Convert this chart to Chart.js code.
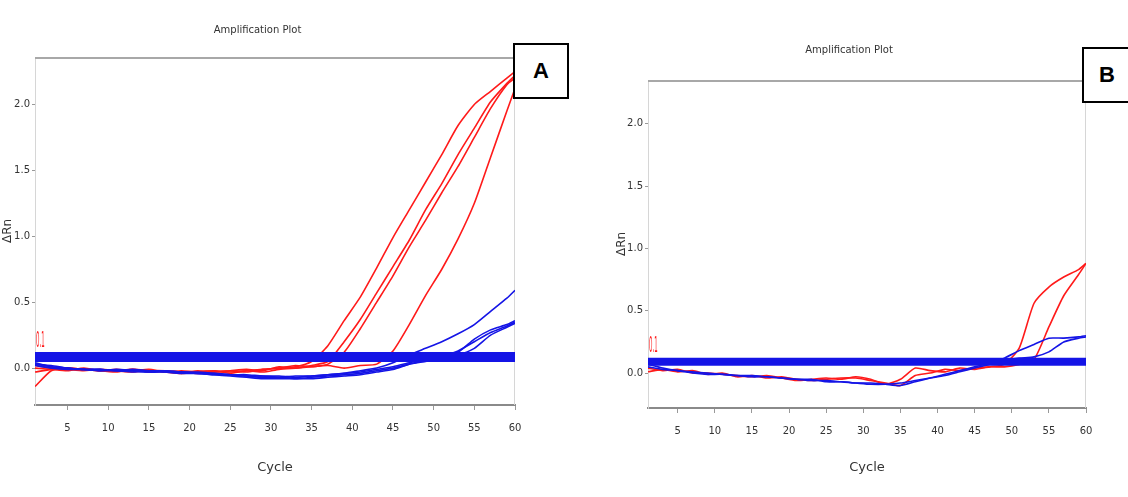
<!DOCTYPE html>
<html>
<head>
<meta charset="utf-8">
<script src="https://cdn.jsdelivr.net/npm/chart.js@4/dist/chart.umd.min.js"></script>
<style>
    html, body { margin: 0; padding: 0; background: #fff; }
    body { width: 1128px; height: 497px; position: relative; overflow: hidden; }
    canvas { position: absolute; top: 0; }
    .tag {
        position: absolute;
        box-sizing: border-box;
        border: 2px solid #000;
        background: #fff;
        font: bold 22px 'Liberation Sans', Arial, sans-serif;
        display: flex;
        align-items: center;
        justify-content: center;
    }
</style>
</head>
<body>
<canvas id="plot_a" width="564" height="497" style="left:0"></canvas>
<canvas id="plot_b" width="564" height="497" style="left:564px"></canvas>
<div class="tag" style="left:513px;top:43px;width:56px;height:56px">A</div>
<div class="tag" style="left:1082px;top:47px;width:50px;height:56px">B</div>
<script>
//
// Data
//

const CYCLES = [1, 3, 5, 7, 9, 11, 13, 15, 17, 19, 21, 23, 25, 27, 29, 31,
    33, 35, 37, 39, 41, 43, 45, 47, 49, 51, 53, 55, 57, 59, 60]
const CYCLE_TICKS = [5, 10, 15, 20, 25, 30, 35, 40, 45, 50, 55, 60]
const DRN_TICKS = [0.0, 0.5, 1.0, 1.5, 2.0]

const THRESHOLD_A = 0.085
const THRESHOLD_B = 0.09

// panel A, positive (red)
const A_RED_1 = [-0.14, -0.02, 0.0, -0.01, -0.02, -0.01, -0.02, -0.01, -0.03, -0.02, -0.03, -0.02, -0.03, -0.02, -0.01, 0.0,
    0.01, 0.05, 0.17, 0.36, 0.54, 0.76, 0.99, 1.2, 1.41, 1.62, 1.84, 2.0, 2.1, 2.2, 2.25]
const A_RED_2 = [0.0, -0.01, -0.02, 0.0, -0.02, -0.03, -0.01, -0.02, -0.03, -0.04, -0.02, -0.03, -0.02, -0.01, -0.02, 0.01,
    0.0, 0.02, 0.05, 0.2, 0.37, 0.57, 0.77, 0.97, 1.2, 1.4, 1.62, 1.82, 2.02, 2.16, 2.22]
const A_RED_3 = [0.02, 0.0, -0.01, -0.02, -0.01, -0.02, -0.03, -0.02, -0.02, -0.03, -0.04, -0.03, -0.02, -0.03, -0.01, 0.0,
    0.02, 0.01, 0.03, 0.12, 0.3, 0.5, 0.7, 0.92, 1.12, 1.33, 1.53, 1.75, 1.97, 2.15, 2.2]
const A_RED_4 = [-0.03, -0.01, 0.0, -0.01, -0.02, -0.02, -0.01, -0.03, -0.02, -0.04, -0.03, -0.02, -0.04, -0.02, -0.03, -0.01,
    0.0, 0.01, 0.02, 0.0, 0.02, 0.03, 0.13, 0.33, 0.55, 0.75, 0.98, 1.25, 1.6, 1.95, 2.12]

// panel A, controls (blue)
const A_BLUE_1 = [0.03, 0.01, 0.0, -0.01, -0.01, -0.02, -0.01, -0.02, -0.02, -0.03, -0.03, -0.04, -0.05, -0.05, -0.06, -0.06,
    -0.07, -0.06, -0.05, -0.04, -0.02, 0.0, 0.04, 0.1, 0.15, 0.2, 0.26, 0.33, 0.43, 0.53, 0.59]
const A_BLUE_2 = [0.02, 0.0, -0.01, -0.01, -0.02, -0.02, -0.03, -0.02, -0.03, -0.04, -0.04, -0.05, -0.06, -0.07, -0.08, -0.08,
    -0.08, -0.08, -0.07, -0.06, -0.05, -0.03, -0.01, 0.03, 0.06, 0.09, 0.13, 0.2, 0.27, 0.32, 0.35]
const A_BLUE_3 = [0.04, 0.01, 0.0, -0.01, -0.01, -0.02, -0.02, -0.03, -0.03, -0.03, -0.04, -0.05, -0.05, -0.06, -0.07, -0.07,
    -0.08, -0.07, -0.06, -0.05, -0.04, -0.02, 0.0, 0.03, 0.05, 0.08, 0.1, 0.15, 0.25, 0.31, 0.34]
const A_BLUE_4 = [0.03, 0.02, 0.0, -0.01, -0.02, -0.01, -0.02, -0.03, -0.02, -0.03, -0.04, -0.04, -0.05, -0.06, -0.06, -0.07,
    -0.06, -0.06, -0.05, -0.04, -0.03, -0.01, 0.01, 0.04, 0.07, 0.09, 0.12, 0.22, 0.29, 0.33, 0.36]

// panel B, positive (red)
const B_RED_1 = [0.04, 0.02, 0.03, 0.0, 0.0, -0.01, -0.02, -0.03, -0.02, -0.04, -0.06, -0.05, -0.04, -0.05, -0.03, -0.05,
    -0.09, -0.05, 0.04, 0.02, 0.01, 0.04, 0.03, 0.05, 0.07, 0.2, 0.56, 0.69, 0.77, 0.83, 0.88]
const B_RED_2 = [0.01, 0.03, 0.01, 0.02, -0.01, 0.0, -0.03, -0.02, -0.04, -0.03, -0.05, -0.06, -0.05, -0.04, -0.04, -0.06,
    -0.08, -0.1, -0.02, 0.0, 0.03, 0.02, 0.04, 0.05, 0.05, 0.07, 0.11, 0.37, 0.62, 0.79, 0.88]

// panel B, controls (blue)
const B_BLUE_1 = [0.07, 0.04, 0.02, 0.01, 0.0, -0.01, -0.02, -0.02, -0.03, -0.04, -0.05, -0.06, -0.06, -0.07, -0.08, -0.08,
    -0.09, -0.1, -0.07, -0.04, -0.01, 0.02, 0.05, 0.08, 0.12, 0.18, 0.23, 0.28, 0.28, 0.29, 0.3]
const B_BLUE_2 = [0.05, 0.03, 0.02, 0.0, -0.01, -0.01, -0.02, -0.03, -0.03, -0.04, -0.05, -0.05, -0.07, -0.07, -0.08, -0.09,
    -0.09, -0.08, -0.06, -0.04, -0.02, 0.01, 0.04, 0.07, 0.1, 0.12, 0.13, 0.17, 0.25, 0.28, 0.29]

const RED = '#ff1a1a'
const BLUE = '#1414e6'
const FAMILY = "'DejaVu Sans', sans-serif"

//
// Helpers
//

function curve (values, color) {
    return {
        data: values.map((v, i) => ({ x: CYCLES[i], y: v })),
        borderColor: color,
        borderWidth: 1.6,
        pointRadius: 0,
        tension: 0.2,
        fill: false,
    }
}

function threshold_band (value, width) {
    return {
        data: [ { x: CYCLES[0], y: value }, { x: CYCLES[CYCLES.length - 1], y: value } ],
        borderColor: BLUE,
        borderWidth: width,
        pointRadius: 0,
        order: -1,
    }
}

// thin grey frame around the plot and the red threshold label
const frame_plugin = {
    id: 'frame',
    beforeDatasetsDraw (chart) {
        const { ctx, chartArea: a } = chart
        ctx.save()
        ctx.strokeStyle = '#d6d6d6'
        ctx.lineWidth = 1
        ctx.beginPath()
        ctx.moveTo(a.left + 0.5, a.top)
        ctx.lineTo(a.left + 0.5, a.bottom)
        ctx.moveTo(a.right - 0.5, a.top)
        ctx.lineTo(a.right - 0.5, a.bottom)
        ctx.stroke()
        ctx.strokeStyle = '#a8a8a8'
        ctx.lineWidth = 2
        ctx.beginPath()
        ctx.moveTo(a.left, a.top + 1)
        ctx.lineTo(a.right, a.top + 1)
        ctx.stroke()
        ctx.restore()
    },
    afterDatasetsDraw (chart, args, opts) {
        const { ctx, chartArea: a, scales } = chart
        const y = scales.y.getPixelForValue(opts.threshold)
        ctx.save()
        ctx.fillStyle = RED
        ctx.font = '9px ' + FAMILY
        ctx.textBaseline = 'bottom'
        ctx.translate(a.left + 1, y - 5)
        ctx.scale(0.6, 2.4)
        ctx.fillText('0.1', 0, 0)
        ctx.restore()
    },
}

function make_chart (id, datasets, box) {
    const ctx = document.getElementById(id).getContext('2d')
    return new Chart(ctx, {
        type: 'line',
        data: { datasets },
        plugins: [ frame_plugin ],
        options: {
            responsive: false,
            animation: false,
            layout: { padding: box.padding },
            plugins: {
                legend: { display: false },
                tooltip: { enabled: false },
                frame: { threshold: box.threshold },
                title: {
                    display: true,
                    text: 'Amplification Plot',
                    color: '#333',
                    font: { family: FAMILY, size: 10, weight: 'normal' },
                    padding: box.title_padding,
                },
            },
            scales: {
                x: {
                    type: 'linear',
                    min: 1,
                    max: 60,
                    afterBuildTicks: (s) => { s.ticks = CYCLE_TICKS.map((v) => ({ value: v })) },
                    afterFit: (s) => { s.height = box.x_height },
                    grid: { display: true, drawOnChartArea: false, tickLength: 5, color: '#999' },
                    border: { color: '#8a8a8a', width: 2 },
                    ticks: {
                        color: '#333',
                        padding: 12,
                        maxRotation: 0,
                        autoSkip: false,
                        font: { family: FAMILY, size: 10 },
                    },
                    title: {
                        display: true,
                        text: 'Cycle',
                        color: '#333',
                        font: { family: FAMILY, size: 13 },
                        padding: { top: 0, bottom: 3 },
                    },
                },
                y: {
                    type: 'linear',
                    min: -0.28,
                    max: box.y_max,
                    afterBuildTicks: (s) => { s.ticks = DRN_TICKS.map((v) => ({ value: v })) },
                    afterFit: (s) => { s.width = box.y_width },
                    grid: { display: true, drawOnChartArea: false, tickLength: 3, color: '#999' },
                    border: { color: '#c8c8c8', width: 1 },
                    ticks: {
                        color: '#333',
                        padding: 2,
                        autoSkip: false,
                        font: { family: FAMILY, size: 10 },
                        callback: (v) => v.toFixed(1),
                    },
                    title: {
                        display: true,
                        text: 'ΔRn',
                        color: '#333',
                        font: { family: FAMILY, size: 12 },
                        padding: { top: box.y_title_pad, bottom: 0 },
                    },
                },
            },
        },
    })
}

//
// Charts
//

make_chart('plot_a', [
    threshold_band(THRESHOLD_A, 10),
    curve(A_BLUE_1, BLUE),
    curve(A_BLUE_2, BLUE),
    curve(A_BLUE_3, BLUE),
    curve(A_BLUE_4, BLUE),
    curve(A_RED_1, RED),
    curve(A_RED_2, RED),
    curve(A_RED_3, RED),
    curve(A_RED_4, RED),
], {
    padding: { left: 0, right: 49, top: 6, bottom: 19 },
    title_padding: { top: 18, bottom: 21 },
    x_height: 73,
    y_width: 35,
    y_title_pad: 1,
    y_max: 2.36,
    threshold: THRESHOLD_A,
})

make_chart('plot_b', [
    threshold_band(THRESHOLD_B, 8),
    curve(B_BLUE_1, BLUE),
    curve(B_BLUE_2, BLUE),
    curve(B_RED_1, RED),
    curve(B_RED_2, RED),
], {
    padding: { left: 48, right: 42, top: 6, bottom: 19 },
    title_padding: { top: 38, bottom: 24 },
    x_height: 70,
    y_width: 36,
    y_title_pad: 3,
    y_max: 2.35,
    threshold: THRESHOLD_B,
})
</script>
</body>
</html>
